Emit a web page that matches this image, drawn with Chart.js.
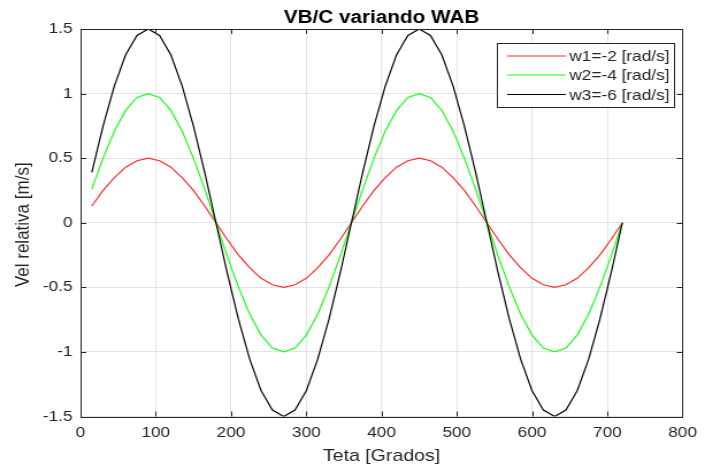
<!DOCTYPE html>
<html>
<head>
<meta charset="utf-8">
<script src="https://cdn.jsdelivr.net/npm/chart.js@4.4.1/dist/chart.umd.min.js"></script>
<style>
  html, body { margin: 0; padding: 0; background: #fff; overflow: hidden; }
  /* the reference figure is stretched sideways a little; draw narrow and widen */
  #wrap { width: 613px; height: 469px; transform: scaleX(1.1501); transform-origin: 0 0; }
</style>
</head>
<body>
<div id="wrap"><canvas id="c" width="613" height="469" style="width:613px;height:469px"></canvas></div>
<script>
  const TITLE = "VB/C variando WAB";
  const X_LABEL = "Teta [Grados]";
  const Y_LABEL = "Vel relativa [m/s]";
  const SERIES_LABELS = ["w1=-2 [rad/s]", "w2=-4 [rad/s]", "w3=-6 [rad/s]"];

  const xTicks = [0, 100, 200, 300, 400, 500, 600, 700, 800];
  const yTicks = [-1.5, -1, -0.5, 0, 0.5, 1, 1.5];

  const teta = [15, 30, 45, 60, 75, 90, 105, 120, 135, 150, 165, 180,
    195, 210, 225, 240, 255, 270, 285, 300, 315, 330, 345, 360,
    375, 390, 405, 420, 435, 450, 465, 480, 495, 510, 525, 540,
    555, 570, 585, 600, 615, 630, 645, 660, 675, 690, 705, 720];

  const w1 = [0.13, 0.25, 0.35, 0.43, 0.48, 0.50, 0.48, 0.43, 0.35, 0.25, 0.13, 0,
    -0.13, -0.25, -0.35, -0.43, -0.48, -0.50, -0.48, -0.43, -0.35, -0.25, -0.13, 0,
    0.13, 0.25, 0.35, 0.43, 0.48, 0.50, 0.48, 0.43, 0.35, 0.25, 0.13, 0,
    -0.13, -0.25, -0.35, -0.43, -0.48, -0.50, -0.48, -0.43, -0.35, -0.25, -0.13, 0];

  const w2 = [0.26, 0.50, 0.71, 0.87, 0.97, 1.00, 0.97, 0.87, 0.71, 0.50, 0.26, 0,
    -0.26, -0.50, -0.71, -0.87, -0.97, -1.00, -0.97, -0.87, -0.71, -0.50, -0.26, 0,
    0.26, 0.50, 0.71, 0.87, 0.97, 1.00, 0.97, 0.87, 0.71, 0.50, 0.26, 0,
    -0.26, -0.50, -0.71, -0.87, -0.97, -1.00, -0.97, -0.87, -0.71, -0.50, -0.26, 0];

  const w3 = [0.39, 0.75, 1.06, 1.30, 1.45, 1.50, 1.45, 1.30, 1.06, 0.75, 0.39, 0,
    -0.39, -0.75, -1.06, -1.30, -1.45, -1.50, -1.45, -1.30, -1.06, -0.75, -0.39, 0,
    0.39, 0.75, 1.06, 1.30, 1.45, 1.50, 1.45, 1.30, 1.06, 0.75, 0.39, 0,
    -0.39, -0.75, -1.06, -1.30, -1.45, -1.50, -1.45, -1.30, -1.06, -0.75, -0.39, 0];

  const COLORS = ["#ff2a2a", "#19ff19", "#000000"];

  const FONT = '"Liberation Sans", Arial, sans-serif';
  const INK = "#262626";

  const pts = ys => ys.map((v, i) => ({ x: teta[i], y: v }));

  // MATLAB-style box, inward ticks, title, axis labels and legend
  const matlabFrame = {
    id: "matlabFrame",
    afterDatasetsDraw(chart) {
      const { ctx, chartArea: a, scales: { x, y } } = chart;
      ctx.save();

      ctx.strokeStyle = INK;
      ctx.lineWidth = 1;
      ctx.strokeRect(Math.round(a.left) + 0.5, Math.round(a.top) + 0.5,
        Math.round(a.right - a.left), Math.round(a.bottom - a.top));

      ctx.beginPath();
      xTicks.forEach(v => {
        const px = Math.round(x.getPixelForValue(v)) + 0.5;
        ctx.moveTo(px, a.bottom); ctx.lineTo(px, a.bottom - 5);
        ctx.moveTo(px, a.top); ctx.lineTo(px, a.top + 5);
      });
      yTicks.forEach(v => {
        const py = Math.round(y.getPixelForValue(v)) + 0.5;
        ctx.moveTo(a.left, py); ctx.lineTo(a.left + 5, py);
        ctx.moveTo(a.right, py); ctx.lineTo(a.right - 5, py);
      });
      ctx.stroke();

      const cx = (a.left + a.right) / 2;
      ctx.textAlign = "center";
      ctx.textBaseline = "alphabetic";
      ctx.fillStyle = "#000";
      ctx.font = "bold 18px " + FONT;
      ctx.fillText(TITLE, cx, 23);

      ctx.fillStyle = INK;
      ctx.font = "17px " + FONT;
      ctx.fillText(X_LABEL, cx, 461);

      ctx.save();
      ctx.translate(20, (a.top + a.bottom) / 2 + 2);
      ctx.rotate(-Math.PI / 2);
      ctx.textBaseline = "middle";
      ctx.fillText(Y_LABEL, 0, 0);
      ctx.restore();

      // legend box
      const lx = 432, ly = 43, lw = 154, lh = 64;
      ctx.fillStyle = "#fff";
      ctx.fillRect(lx, ly, lw, lh);
      ctx.strokeStyle = INK;
      ctx.strokeRect(lx + 0.5, ly + 0.5, lw, lh);
      ctx.font = "15px " + FONT;
      ctx.textAlign = "left";
      ctx.textBaseline = "middle";
      const rows = [56, 75, 94.5];
      SERIES_LABELS.forEach((lab, i) => {
        ctx.strokeStyle = COLORS[i];
        ctx.lineWidth = 1.2;
        ctx.beginPath();
        ctx.moveTo(441, rows[i]); ctx.lineTo(492, rows[i]);
        ctx.stroke();
        ctx.fillStyle = INK;
        ctx.fillText(lab, 495, rows[i] + 1);
      });

      ctx.restore();
    }
  };

  new Chart(document.getElementById("c"), {
    type: "line",
    data: {
      datasets: [
        { label: SERIES_LABELS[0], data: pts(w1), borderColor: COLORS[0], order: 2 },
        { label: SERIES_LABELS[1], data: pts(w2), borderColor: COLORS[1], order: 1 },
        { label: SERIES_LABELS[2], data: pts(w3), borderColor: COLORS[2], order: 0 },
      ],
    },
    options: {
      responsive: false,
      animation: false,
      devicePixelRatio: 1,
      layout: { padding: { top: 29, right: 11, left: 0, bottom: 0 } },
      elements: {
        line: { borderWidth: 1.2, tension: 0, fill: false },
        point: { radius: 0 },
      },
      plugins: { legend: { display: false }, title: { display: false }, tooltip: { enabled: false } },
      scales: {
        x: {
          type: "linear", min: 0, max: 800,
          afterFit: s => { s.height = 52.5; },
          afterBuildTicks: s => { s.ticks = xTicks.map(v => ({ value: v })); },
          ticks: { color: INK, font: { family: FONT, size: 15 }, padding: 7, maxRotation: 0 },
          grid: { color: "#e3e3e3", drawTicks: false },
          border: { display: false },
        },
        y: {
          min: -1.5, max: 1.5,
          afterFit: s => { s.width = 70; },
          afterBuildTicks: s => { s.ticks = yTicks.map(v => ({ value: v })); },
          ticks: { color: INK, font: { family: FONT, size: 15 }, padding: 7, callback: v => String(Math.round(v * 10) / 10) },
          grid: { color: "#e3e3e3", drawTicks: false },
          border: { display: false },
        },
      },
    },
    plugins: [matlabFrame],
  });
</script>
</body>
</html>
